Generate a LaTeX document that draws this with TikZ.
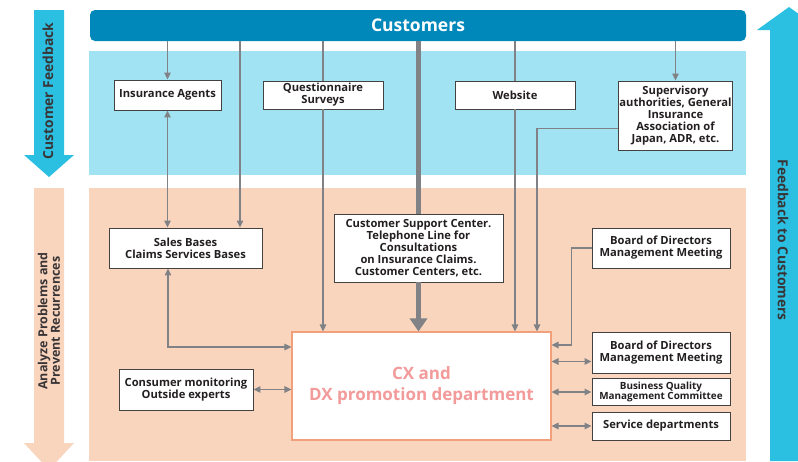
\documentclass[tikz,border=0pt]{standalone}
\usepackage{fontspec}
\setmainfont{Open Sans}
\usetikzlibrary{arrows.meta,positioning,calc}
\definecolor{cCyan}{HTML}{2BBFE2}
\definecolor{cBar}{HTML}{0088BB}
\definecolor{cSky}{HTML}{A2E3F3}
\definecolor{cPeach}{HTML}{FAD5BE}
\definecolor{cSalmon}{HTML}{F2A07B}
\definecolor{cRose}{HTML}{F39A9A}
\definecolor{cInk}{HTML}{231F20}
\definecolor{cGray}{HTML}{808285}
\newcommand\bxfont{\fontsize{11.2}{12}\selectfont\bfseries}
\tikzset{
  bx/.style={draw=cInk!85,fill=white,line width=0.9pt,align=center,font=\bxfont,inner sep=0.5pt,text=cInk},
  custbar/.style={fill=cBar,rounded corners=5pt,minimum width=656pt,minimum height=31pt,text=white,font=\fontsize{17.5}{20}\selectfont\bfseries},
  cxbox/.style={draw=cSalmon,fill=white,line width=1.1pt,minimum width=259pt,minimum height=108pt,align=center,text=cRose,font=\fontsize{17}{21}\selectfont\bfseries},
  sidelbl/.style={align=center,text=cInk!90,font=\fontsize{13.8}{16}\selectfont\bfseries},
  arr/.style={-{Triangle[length=7pt,width=6.5pt]},line width=1.2pt,color=cGray},
  darr/.style={{Triangle[length=7pt,width=6.5pt]}-{Triangle[length=7pt,width=6.5pt]},line width=1.2pt,color=cGray},
  ln/.style={line width=1.2pt,color=cGray},
  thk/.style={-{Triangle[length=13pt,width=17pt]},line width=4.5pt,color=cGray},
}
\begin{document}
\begin{tikzpicture}[x=1pt,y=-1pt]
  \useasboundingbox (0,0) rectangle (798,461);
  \clip (0,0) rectangle (798,461);
  % bands
  \fill[cSky] (89,51) rectangle (746,175);
  \fill[cPeach] (89,188) rectangle (746,461);
  % side arrows
  \fill[cCyan] (34,10) -- (64,10) -- (64,155) -- (74,155) -- (49,177) -- (24,155) -- (34,155) -- cycle;
  \fill[cPeach] (34,188) -- (64,188) -- (64,443) -- (74,443) -- (49,470) -- (24,443) -- (34,443) -- cycle;
  \fill[cCyan] (770,461) -- (770,30) -- (757,30) -- (789,7) -- (821,30) -- (808,30) -- (808,461) -- cycle;
  \node[sidelbl,rotate=90] (fbk) at (48,91) {Customer Feedback};
  \node[sidelbl,rotate=90,font=\fontsize{12.5}{12.5}\selectfont\bfseries] (ana) at (49,321) {Analyze Problems and\\Prevent Recurrences};
  \node[sidelbl,rotate=-90] (fbc) at (783,240) {Feedback to Customers};

  % nodes
  \node[custbar] (cust) at (418,25.5) {Customers};
  \node[bx,minimum width=107pt,minimum height=30pt] (ia) at (167.5,95) {Insurance Agents};
  \node[bx,minimum width=120pt,minimum height=28pt] (qs) at (323,95) {Questionnaire\\Surveys};
  \node[bx,minimum width=120pt,minimum height=28pt] (web) at (515,95) {Website};
  \node[bx,minimum width=105pt,minimum height=69pt] (sv) at (675.5,115.5) {Supervisory\\authorities, General\\Insurance\\Association of\\Japan, ADR, etc.};
  \node[bx,minimum width=153pt,minimum height=40pt] (sb) at (185.5,248) {Sales Bases\\Claims Services Bases};
  \node[bx,minimum width=169pt,minimum height=68pt] (csc) at (418.5,248) {Customer Support Center.\\Telephone Line for\\Consultations\\on Insurance Claims.\\Customer Centers, etc.};
  \node[bx,minimum width=138pt,minimum height=40pt] (bd1) at (661,248) {Board of Directors\\Management Meeting};
  \node[cxbox] (cx) at (421.5,386) {CX and\\DX promotion department};
  \node[bx,minimum width=138pt,minimum height=41pt] (bd2) at (661,352.5) {Board of Directors\\Management Meeting};
  \node[bx,minimum width=138pt,minimum height=27pt,font=\fontsize{9.9}{10.5}\selectfont\bfseries] (bqm) at (661,392) {Business Quality\\Management Committee};
  \node[bx,minimum width=138pt,minimum height=28pt] (svc) at (661,426) {Service departments};
  \node[bx,minimum width=134pt,minimum height=41pt] (cm) at (186,389.5) {Consumer monitoring\\Outside experts};

  % connectors
  \draw[arr] (cust.south -| ia.north) -- (ia.north);
  \draw[darr] (ia.south) -- (ia.south |- sb.north);
  \coordinate (sbx) at ([xshift=54.5pt]sb.north);
  \draw[arr] (sbx |- cust.south) -- (sbx);
  \draw[ln] (cust.south -| qs.north) -- (qs.north);
  \draw[arr] (qs.south) -- (qs.south |- cx.north);
  \draw[ln,line width=4.5pt] (cust.south -| csc.north) -- (csc.north);
  \draw[thk] (csc.south) -- (csc.south |- cx.north);
  \draw[ln] (cust.south -| web.north) -- (web.north);
  \draw[arr] (web.south) -- (web.south |- cx.north);
  \draw[arr] (cust.south -| sv.north) -- (sv.north);
  \draw[arr] ([yshift=-13pt]sv.west) -| ([xshift=115.5pt]cx.north);
  \draw[arr] (bd1.west) -- ++(-20,0) |- ([yshift=41pt]cx.east);
  \draw[darr] ([xshift=-17.5pt]sb.south) |- ([yshift=39pt]cx.west);
  \draw[darr] (cm.east) -- (cm.east -| cx.west);
  \draw[darr] ([yshift=-9pt]bd2.west -| cx.east) -- ([yshift=-9pt]bd2.west);
  \draw[darr] (bqm.west -| cx.east) -- (bqm.west);
  \draw[darr] (svc.west -| cx.east) -- (svc.west);
\end{tikzpicture}
\end{document}
